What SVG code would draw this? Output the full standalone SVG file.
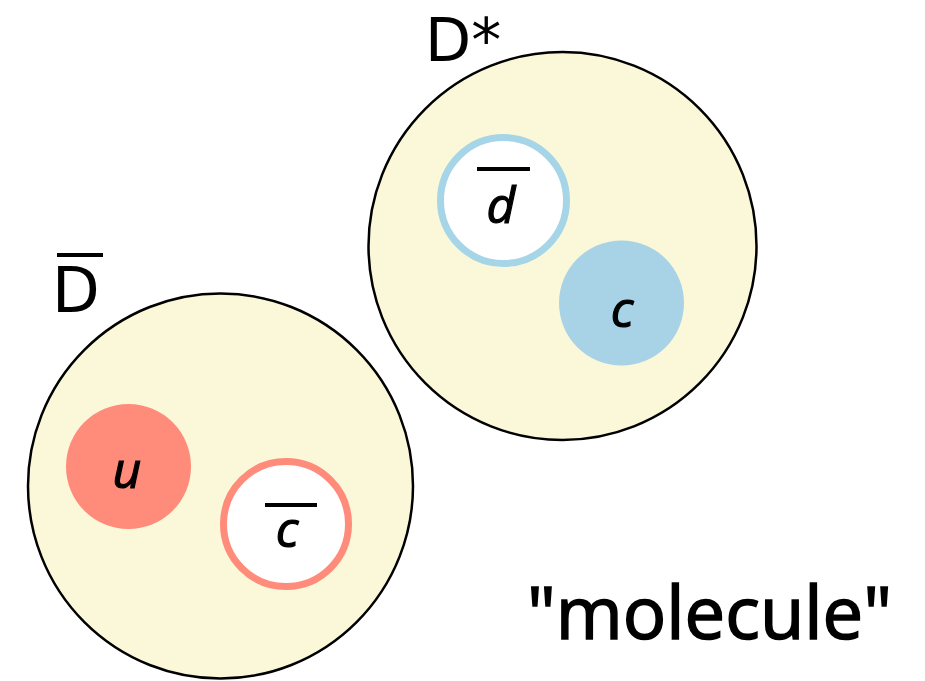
<svg xmlns="http://www.w3.org/2000/svg" width="925" height="681" viewBox="0 0 925 681">
<style>
.meson{fill:#FAF8D9;stroke:#000;stroke-width:2.5}
.lbl{font-family:"DejaVu Sans","Open Sans",sans-serif;fill:#000}
.mol{font-family:"Open Sans","DejaVu Sans",sans-serif;fill:#000;stroke:#000;stroke-width:1.6}
.q{font-family:"Open Sans","DejaVu Sans",sans-serif;font-style:italic;font-size:50px;fill:#000;stroke:#000;stroke-width:1.2;text-anchor:middle}
.bar{stroke:#000;stroke-width:4}
</style>
<rect width="925" height="681" fill="#fff"/>
<g id="Dbar">
<circle class="meson" cx="220.5" cy="486" r="192.5"/>
<text class="lbl" x="52" y="312" font-size="62">D</text>
<line class="bar" x1="57" y1="255" x2="103" y2="255"/>
</g>
<g id="u">
<circle cx="128.5" cy="466.5" r="62.5" fill="#FF8B7B"/>
<text class="q" x="127" y="488">u</text>
</g>
<g id="cbar">
<circle cx="286" cy="524" r="62.5" fill="#fff" stroke="#FF8B7B" stroke-width="7"/>
<text class="q" x="287" y="547">c</text>
<line class="bar" x1="265" y1="505" x2="317" y2="505"/>
</g>
<g id="Dstar">
<circle class="meson" cx="562.5" cy="246" r="194"/>
<text class="lbl" x="425" y="61" font-size="60">D*</text>
</g>
<g id="dbar">
<circle cx="503.5" cy="200.5" r="63" fill="#fff" stroke="#A6D5E8" stroke-width="7"/>
<text class="q" x="501" y="223">d</text>
<line class="bar" x1="477" y1="169" x2="530" y2="169"/>
</g>
<g id="c">
<circle cx="621.5" cy="303" r="62.5" fill="#A8D3E6"/>
<text class="q" x="622" y="327">c</text>
</g>
<text class="mol" x="527" y="639" font-size="74" textLength="365" lengthAdjust="spacingAndGlyphs">"molecule"</text>
<g id="connectors"/>
</svg>
